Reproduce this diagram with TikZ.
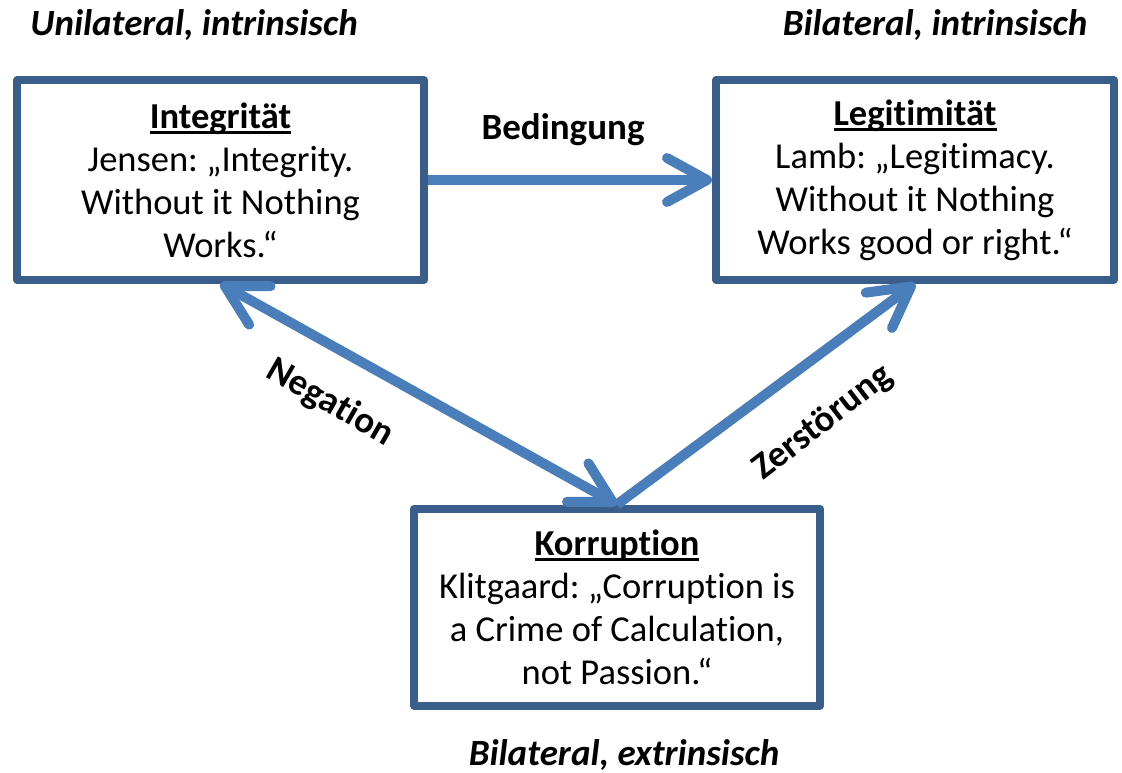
\documentclass[tikz,border=0pt]{standalone}
\usepackage{fontspec}
\setmainfont{Carlito}[Ligatures=NoCommon]
\usetikzlibrary{arrows.meta}
\definecolor{boxline}{HTML}{3A5E8C}
\definecolor{arrowblue}{HTML}{4A7EBB}
\frenchspacing
% bold title with a heavier underline running close under the baseline
\newcommand\boxtitle[1]{\setbox0\hbox{\textbf{#1}}\leavevmode\rlap{\box0}%
  \setbox0\hbox{\textbf{#1}}\rule[-5.5pt]{\wd0}{3pt}}
\begin{document}
\begin{tikzpicture}[x=1pt,y=-1pt,
  quote/.style={draw=boxline, line width=8pt, line join=round, fill=white,
    inner sep=0pt, align=center, font=\fontsize{36.5}{43}\selectfont},
  link/.style={draw=arrowblue, line width=10pt,
    arrows={-{Straight Barb[length=40pt,width=44pt,round]}}},
  twoway/.style={link, arrows={{Straight Barb[length=40pt,width=44pt,round]}-{Straight Barb[length=40pt,width=44pt,round]}}},
  heading/.style={font=\fontsize{37}{44}\selectfont\bfseries\itshape},
  linklabel/.style={font=\fontsize{37}{44}\selectfont\bfseries}]
\useasboundingbox (0,0) rectangle (1122,773);

% the three boxes
\node[quote, minimum width=407pt, minimum height=199pt] (int) at (220.5,180)
  {\boxtitle{Integrität}\\Jensen: „Integrity.\\Without it Nothing\\Works.“};
\node[quote, minimum width=398pt, minimum height=199pt] (leg) at (915,180)
  {\boxtitle{Legitimität}\\Lamb: „Legitimacy.\\Without it Nothing\\Works good or right.“};
\node[quote, minimum width=406pt, minimum height=197pt] (kor) at (617,607)
  {\boxtitle{Korruption}\\Klitgaard: „Corruption is\\a Crime of Calculation,\\not Passion.“};

% headings
\node[heading] (h1) at (194,25) {Unilateral, intrinsisch};
\node[heading] (h2) at (935,25) {Bilateral, intrinsisch};
\node[heading] (h3) at (624,755) {Bilateral, extrinsisch};

% connectors
\draw[link] (int.east) -- (leg.west);
\draw[twoway] (int.south) -- (kor.north);
\draw[link] (kor.north) -- (leg.south);

% connector labels
\node[linklabel] (lb) at (563,130) {Bedingung};
\node[linklabel, rotate=-30] (ln) at (330,403) {Negation};
\node[linklabel, rotate=37.5] (lz) at (823,423) {Zerstörung};
\end{tikzpicture}
\end{document}
